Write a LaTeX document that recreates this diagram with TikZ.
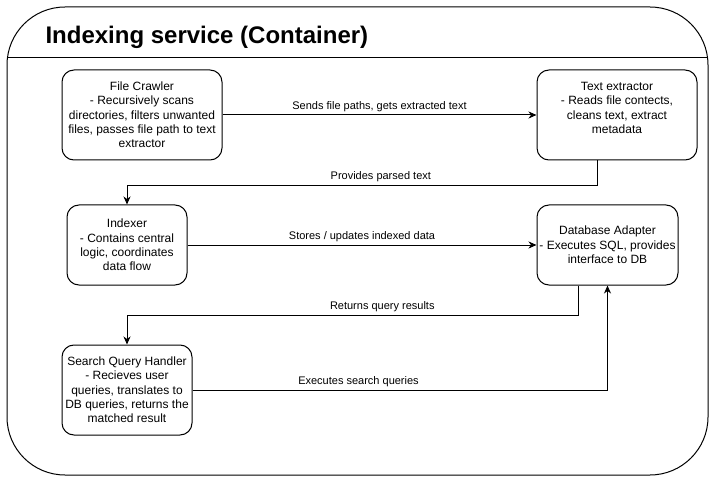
\documentclass[tikz,border=0pt]{standalone}
\usepackage{fontspec}
\setmainfont{Liberation Sans}
\usetikzlibrary{arrows.meta}

\begin{document}
\begin{tikzpicture}[x=1pt, y=-1pt, line width=1pt,
  box/.style={draw, rounded corners=12pt, align=center, inner sep=2pt, font=\fontsize{12}{14.3}\selectfont},
  lbl/.style={above, inner sep=3pt, font=\fontsize{11}{13}\selectfont},
  flow/.style={-{Stealth[length=8pt, width=7pt, inset=2.5pt]}},
  title/.style={anchor=west, inner sep=0pt, font=\bfseries\fontsize{24}{28}\selectfont}]
  \useasboundingbox (0,0) rectangle (712,481);
  \draw[rounded corners=58pt] (7,7) rectangle (708,475);
  \draw (7,58) -- (708,58);
  \node[title] (title) at (45,37) {Indexing service (Container)};
  \node[box, minimum width=160pt, minimum height=90pt] (crawler) at (142,115) {File Crawler\\- Recursively scans\\directories, filters unwanted\\files, passes file path to text\\extractor};
  \node[box, minimum width=160pt, minimum height=90pt] (extractor) at (617,115) {Text extractor\\- Reads file contects,\\cleans text, extract\\metadata\\\mbox{}};
  \node[box, minimum width=120pt, minimum height=80pt] (indexer) at (127,245) {Indexer\\- Contains central\\logic, coordinates\\data flow};
  \node[box, minimum width=141pt, minimum height=80pt] (db) at (607.5,245) {Database Adapter\\- Executes SQL, provides\\interface to DB};
  \node[box, minimum width=130pt, minimum height=90pt] (sqh) at (127,390) {Search Query Handler\\- Recieves user\\queries, translates to\\DB queries, returns the\\matched result};
  \draw[flow] (crawler) -- node[lbl] {Sends file paths, gets extracted text} (extractor);
  \draw[flow] ([xshift=-20pt]extractor.south) -- ++(0,25) -| node[lbl, pos=0.23] {Provides parsed text} (indexer.north);
  \draw[flow] (indexer) -- node[lbl] {Stores / updates indexed data} (db);
  \draw[flow] ([xshift=-29.5pt]db.south) -- ++(0,30) -| node[lbl, pos=0.217] {Returns query results} (sqh.north);
  \draw[flow] (sqh) -| node[lbl, pos=0.2] {Executes search queries} (db.south);
\end{tikzpicture}
\end{document}
